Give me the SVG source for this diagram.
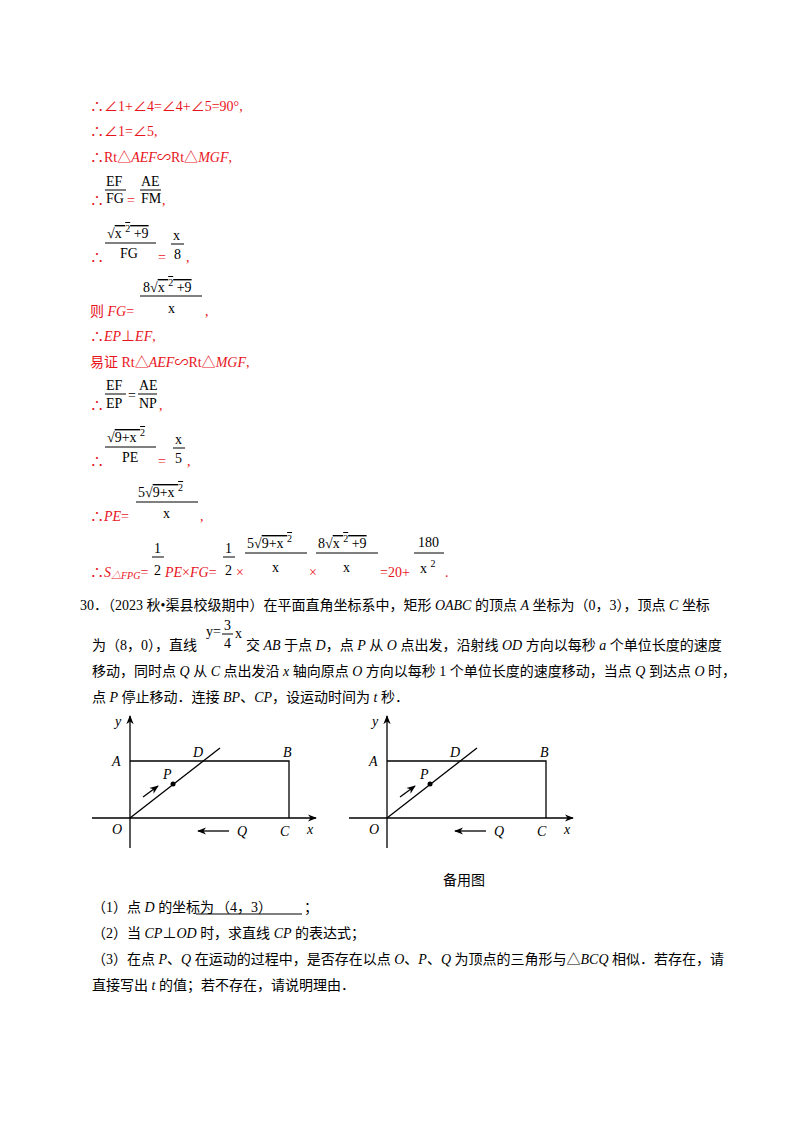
<svg xmlns="http://www.w3.org/2000/svg" width="800" height="1132" viewBox="0 0 800 1132">
<style>
text{font-family:"Liberation Serif","Noto Sans CJK SC",serif;font-size:14px}
.r{fill:#e8141c}
.k{fill:#000}
.m{font-family:"Liberation Serif",serif;font-size:14px}
.i{font-style:italic}
.s{font-size:10px}
.bar{stroke:#000;stroke-width:1}
.ln{stroke:#000;stroke-width:1.3;fill:none}
</style>
<defs><marker id="ah" viewBox="0 0 10 10" refX="9" refY="5" markerWidth="7" markerHeight="7" orient="auto"><path d="M0,1 L10,5 L0,9 L3,5Z" fill="#000"/></marker></defs>
<rect width="800" height="1132" fill="#fff"/>
<g id="solution">
<text class="r" x="90" y="111">∴∠1+∠4=∠4+∠5=90°,</text>
<text class="r" x="90" y="136">∴∠1=∠5,</text>
<text class="r" x="90" y="162">∴Rt△<tspan class="i">AEF</tspan>∽Rt△<tspan class="i">MGF</tspan>,</text>
<text class="k m" x="106" y="186">EF</text><line class="bar" x1="105" y1="190" x2="126" y2="190"/><text class="k m" x="106" y="203">FG</text>
<text class="r" x="90" y="205">∴</text><text class="r" x="127" y="205">=</text>
<text class="k m" x="141" y="186">AE</text><line class="bar" x1="140" y1="190" x2="161" y2="190"/><text class="k m" x="141" y="203">FM</text>
<text class="r" x="162" y="205">,</text>
<text class="k m" x="107" y="238">√<tspan text-decoration="overline">x <tspan class="s" dy="-6">2</tspan><tspan dy="6"> +9</tspan></tspan></text>
<line class="bar" x1="105" y1="243" x2="156" y2="243"/><text class="k m" x="120" y="258">FG</text>
<text class="r" x="90" y="262">∴</text><text class="r" x="158" y="262">=</text>
<text class="k m" x="173" y="240">x</text><line class="bar" x1="171" y1="244" x2="184" y2="244"/><text class="k m" x="174" y="259">8</text><text class="r" x="186" y="262">,</text>
<text class="r" x="90" y="316">则 <tspan class="i">FG</tspan>=</text>
<text class="k m" x="143" y="292">8√<tspan text-decoration="overline">x <tspan class="s" dy="-6">2</tspan><tspan dy="6"> +9</tspan></tspan></text>
<line class="bar" x1="140" y1="296" x2="202" y2="296"/><text class="k m" x="168" y="313">x</text><text class="r" x="205" y="316">,</text>
<text class="r" x="90" y="341">∴<tspan class="i">EP</tspan>⊥<tspan class="i">EF</tspan>,</text>
<text class="r" x="90" y="367">易证 Rt△<tspan class="i">AEF</tspan>∽Rt△<tspan class="i">MGF</tspan>,</text>
<text class="k m" x="106" y="390">EF</text><line class="bar" x1="105" y1="394" x2="126" y2="394"/><text class="k m" x="106" y="408">EP</text>
<text class="r" x="90" y="410">∴</text><text class="k" x="128" y="400">=</text>
<text class="k m" x="139" y="390">AE</text><line class="bar" x1="138" y1="394" x2="157" y2="394"/><text class="k m" x="139" y="408">NP</text>
<text class="r" x="159" y="410">,</text>
<text class="k m" x="107" y="442">√<tspan text-decoration="overline">9+x <tspan class="s" dy="-6">2</tspan></tspan></text>
<line class="bar" x1="105" y1="447" x2="156" y2="447"/><text class="k m" x="122" y="462">PE</text>
<text class="r" x="90" y="466">∴</text><text class="r" x="158" y="466">=</text>
<text class="k m" x="175" y="444">x</text><line class="bar" x1="173" y1="448" x2="185" y2="448"/><text class="k m" x="175" y="463">5</text><text class="r" x="187" y="466">,</text>
<text class="r" x="90" y="521">∴<tspan class="i">PE</tspan>=</text>
<text class="k m" x="138" y="497">5√<tspan text-decoration="overline">9+x <tspan class="s" dy="-6">2</tspan></tspan></text>
<line class="bar" x1="136" y1="502" x2="198" y2="502"/><text class="k m" x="163" y="518">x</text><text class="r" x="200" y="521">,</text>
<text class="r" x="90" y="577">∴<tspan class="i">S</tspan><tspan class="i s" dy="2">△FPG</tspan><tspan dy="-2">=</tspan></text>
<text class="k m" x="154" y="553">1</text><line class="bar" x1="152" y1="557" x2="164" y2="557"/><text class="k m" x="154" y="575">2</text>
<text class="r" x="165" y="577"><tspan class="i">PE</tspan>×<tspan class="i">FG</tspan>=</text>
<text class="k m" x="225" y="553">1</text><line class="bar" x1="223" y1="557" x2="235" y2="557"/><text class="k m" x="225" y="575">2</text>
<text class="r" x="236" y="577" font-size="10">×</text>
<text class="k m" x="247" y="548">5√<tspan text-decoration="overline">9+x <tspan class="s" dy="-6">2</tspan></tspan></text>
<line class="bar" x1="245" y1="553" x2="307" y2="553"/><text class="k m" x="272" y="572">x</text>
<text class="r" x="309" y="577" font-size="10">×</text>
<text class="k m" x="318" y="548">8√<tspan text-decoration="overline">x <tspan class="s" dy="-6">2</tspan><tspan dy="6"> +9</tspan></tspan></text>
<line class="bar" x1="316" y1="553" x2="378" y2="553"/><text class="k m" x="343" y="572">x</text>
<text class="r" x="380" y="577">=20+</text>
<text class="k m" x="418" y="547">180</text><line class="bar" x1="414" y1="553" x2="444" y2="553"/><text class="k m" x="420" y="573">x <tspan class="s" dy="-6">2</tspan></text>
<text class="r" x="445" y="577">.</text>
</g>
<g id="question">
<text class="k" x="80" y="610">30．（2023 秋•渠县校级期中）在平面直角坐标系中，矩形 <tspan class="i">OABC</tspan> 的顶点 <tspan class="i">A</tspan> 坐标为（0，3），顶点 <tspan class="i">C</tspan> 坐标</text>
<text class="k" x="92" y="650">为（8，0），直线</text>
<text class="k m" x="206" y="636">y=</text><text class="k m" x="224" y="630">3</text><line class="bar" x1="222" y1="634" x2="233" y2="634"/><text class="k m" x="224" y="648">4</text><text class="k m" x="235" y="638">x</text>
<text class="k" x="246" y="650">交 <tspan class="i">AB</tspan> 于点 <tspan class="i">D</tspan>，点 <tspan class="i">P</tspan> 从 <tspan class="i">O</tspan> 点出发，沿射线 <tspan class="i">OD</tspan> 方向以每秒 <tspan class="i">a</tspan> 个单位长度的速度</text>
<text class="k" x="92" y="676">移动，同时点 <tspan class="i">Q</tspan> 从 <tspan class="i">C</tspan> 点出发沿 <tspan class="i">x</tspan> 轴向原点 <tspan class="i">O</tspan> 方向以每秒 1 个单位长度的速度移动，当点 <tspan class="i">Q</tspan> 到达点 <tspan class="i">O</tspan> 时，</text>
<text class="k" x="92" y="702">点 <tspan class="i">P</tspan> 停止移动．连接 <tspan class="i">BP</tspan>、<tspan class="i">CP</tspan>，设运动时间为 <tspan class="i">t</tspan> 秒．</text>
</g>
<g id="fig1">
<line class="ln" x1="130" y1="848" x2="130" y2="716" marker-end="url(#ah)"/>
<line class="ln" x1="92" y1="818" x2="316" y2="818" marker-end="url(#ah)"/>
<polyline class="ln" points="130,761 289,761 289,818"/>
<line class="ln" x1="130" y1="818" x2="220" y2="748"/>
<circle cx="173" cy="784" r="2.5" fill="#000"/>
<line class="ln" x1="143" y1="797" x2="158" y2="786" marker-end="url(#ah)"/>
<line class="ln" x1="229" y1="831" x2="198" y2="831" marker-end="url(#ah)"/>
<g class="k i"><text x="115" y="726">y</text><text x="112" y="766">A</text><text x="193" y="757">D</text><text x="283" y="757">B</text><text x="163" y="779">P</text><text x="112" y="834">O</text><text x="237" y="836">Q</text><text x="280" y="836">C</text><text x="307" y="834">x</text></g>
</g>
<g id="fig2" transform="translate(257,0)">
<line class="ln" x1="130" y1="848" x2="130" y2="716" marker-end="url(#ah)"/>
<line class="ln" x1="92" y1="818" x2="316" y2="818" marker-end="url(#ah)"/>
<polyline class="ln" points="130,761 289,761 289,818"/>
<line class="ln" x1="130" y1="818" x2="220" y2="748"/>
<circle cx="173" cy="784" r="2.5" fill="#000"/>
<line class="ln" x1="143" y1="797" x2="158" y2="786" marker-end="url(#ah)"/>
<line class="ln" x1="229" y1="831" x2="198" y2="831" marker-end="url(#ah)"/>
<g class="k i"><text x="115" y="726">y</text><text x="112" y="766">A</text><text x="193" y="757">D</text><text x="283" y="757">B</text><text x="163" y="779">P</text><text x="112" y="834">O</text><text x="237" y="836">Q</text><text x="280" y="836">C</text><text x="307" y="834">x</text></g>
</g>
<g id="parts">
<text class="k" x="443" y="885">备用图</text>
<text class="k" x="92" y="912">（1）点 <tspan class="i">D</tspan> 的坐标为 </text>
<text class="k" x="216" y="912">（4，3）</text><line class="bar" x1="196" y1="914" x2="302" y2="914"/><text class="k" x="304" y="912">；</text>
<text class="k" x="92" y="938">（2）当 <tspan class="i">CP</tspan>⊥<tspan class="i">OD</tspan> 时，求直线 <tspan class="i">CP</tspan> 的表达式；</text>
<text class="k" x="92" y="964">（3）在点 <tspan class="i">P</tspan>、<tspan class="i">Q</tspan> 在运动的过程中，是否存在以点 <tspan class="i">O</tspan>、<tspan class="i">P</tspan>、<tspan class="i">Q</tspan> 为顶点的三角形与△<tspan class="i">BCQ</tspan> 相似．若存在，请</text>
<text class="k" x="92" y="990">直接写出 <tspan class="i">t</tspan> 的值；若不存在，请说明理由．</text>
</g>
</svg>
